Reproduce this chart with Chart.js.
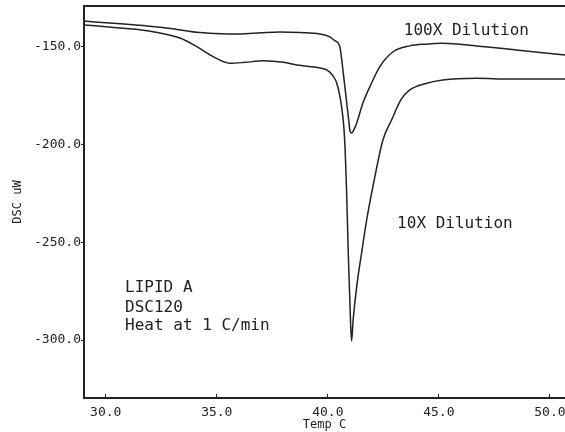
<html><head>
<title>Lipid A DSC</title>
<style>
  body {
    margin: 0;
    background: #fff;
  }
</style>
<script src="https://cdn.jsdelivr.net/npm/chart.js"></script>
</head>
<body>
<canvas id="dscChart" width="565" height="432"></canvas>
<script>
  // 100X dilution scan: temperature (C) and heat flow (uW)
  const temp100 = [29.02, 30.5, 31.86, 33.0, 34.24, 35.2, 36.04, 37.0, 37.84, 38.74, 39.64, 40.09, 40.3, 40.54,
    40.68, 40.85, 40.94, 40.99, 41.07, 41.18, 41.30, 41.58, 41.97, 42.34, 42.94, 43.69, 44.4, 45.18, 46.70,
    48.20, 49.68, 50.68];
  const dsc100 = [-136.9, -138.2, -139.4, -140.8, -142.8, -143.4, -143.5, -142.9, -142.5, -142.8, -143.5, -145.0, -146.8, -150.0,
    -161.9, -178.8, -187.5, -192.6, -194.2, -192.3, -189.0, -178.8, -168.6, -160.2, -152.6, -149.6, -148.7, -148.3, -149.6,
    -151.3, -153.1, -154.2];

  // 10X dilution scan
  const temp10 = [29.02, 30.5, 31.86, 33.34, 34.1, 34.83, 35.59, 36.3, 37.08, 38.0, 38.61, 39.64, 39.95, 40.2,
    40.40, 40.62, 40.72, 40.78, 40.84, 40.92, 41.02, 41.07, 41.14, 41.30, 41.52, 41.75, 42.03, 42.48, 42.87, 43.3,
    43.69, 44.45, 45.18, 46.70, 48.20, 50.68];
  const dsc10 = [-138.9, -140.3, -141.8, -145.6, -150.0, -155.1, -158.5, -158.0, -157.2, -158.0, -159.4, -160.9, -161.9, -164.5,
    -168.6, -180.7, -191.0, -203.0, -222.0, -255.5, -289.7, -300.5, -289.7, -272.7, -255.5, -238.6, -221.6, -197.7, -187.5, -177.0,
    -172.1, -168.7, -167.0, -166.2, -166.5, -166.5];

  const tempTicks = [30, 35, 40, 45, 50];
  const dscTicks = [-300, -250, -200, -150];

  // text written inside the plot, placed in data units
  const notes = [
    { text: '100X Dilution', temp: 43.42, dsc: -142.0 },
    { text: '10X Dilution', temp: 43.12, dsc: -240.6 },
    { text: 'LIPID A', temp: 30.87, dsc: -273.1 },
    { text: 'DSC120', temp: 30.87, dsc: -283.3 },
    { text: 'Heat at 1 C/min', temp: 30.87, dsc: -292.8 }
  ];

  const ink = '#222';
  const mono = "'DejaVu Sans Mono', monospace";
  Chart.defaults.font.family = mono;
  Chart.defaults.color = ink;

  const toPoints = (xs, ys) => xs.map((x, i) => ({ x: x, y: ys[i] }));

  const notesPlugin = {
    id: 'notes',
    afterDraw(chart) {
      const ctx = chart.ctx;
      const { x, y } = chart.scales;
      ctx.save();
      ctx.fillStyle = ink;
      ctx.font = '16px ' + mono;
      ctx.textAlign = 'left';
      ctx.textBaseline = 'middle';
      notes.forEach(n => ctx.fillText(n.text, x.getPixelForValue(n.temp), y.getPixelForValue(n.dsc)));
      ctx.restore();
    }
  };

  const lineStyle = {
    borderColor: ink,
    borderWidth: 1.5,
    pointRadius: 0,
    cubicInterpolationMode: 'monotone',
    fill: false
  };

  new Chart(document.getElementById('dscChart'), {
    type: 'line',
    data: {
      datasets: [
        Object.assign({ label: '100X Dilution', data: toPoints(temp100, dsc100) }, lineStyle),
        Object.assign({ label: '10X Dilution', data: toPoints(temp10, dsc10) }, lineStyle)
      ]
    },
    options: {
      responsive: false,
      animation: false,
      layout: { padding: { top: 6, left: 0, right: 0, bottom: 0 } },
      plugins: {
        legend: { display: false },
        tooltip: { enabled: false }
      },
      scales: {
        x: {
          type: 'linear',
          position: 'bottom',
          min: 29.02,
          max: 50.68,
          afterBuildTicks: s => { s.ticks = tempTicks.map(v => ({ value: v })); },
          afterFit: s => { s.height = 34; s.paddingLeft = 0; s.paddingRight = 0; },
          ticks: {
            font: { size: 13 },
            padding: 11,
            maxRotation: 0,
            autoSkip: false,
            callback: v => v.toFixed(1)
          },
          grid: { drawOnChartArea: false, drawTicks: true, tickLength: -4, color: ink },
          border: { color: ink, width: 2 },
          title: { display: true, text: 'Temp C', font: { size: 12 }, padding: { top: 0, bottom: 0 } }
        },
        top: {
          type: 'linear',
          position: 'top',
          min: 29.02,
          max: 50.68,
          afterFit: s => { s.height = 0; s.paddingLeft = 0; s.paddingRight = 0; },
          ticks: { display: false },
          grid: { display: false },
          border: { color: ink, width: 2 }
        },
        y: {
          type: 'linear',
          min: -329.65,
          max: -129.2,
          afterBuildTicks: s => { s.ticks = dscTicks.map(v => ({ value: v })); },
          afterFit: s => { s.width = 84; s.paddingTop = 0; s.paddingBottom = 0; },
          ticks: {
            font: { size: 13 },
            padding: 0,
            callback: v => v.toFixed(1)
          },
          grid: { drawOnChartArea: false, drawTicks: true, tickLength: 3, color: ink },
          border: { color: ink, width: 2 },
          title: { display: true, text: 'DSC uW', font: { size: 12 }, padding: { top: 11, bottom: 0 } }
        }
      }
    },
    plugins: [notesPlugin]
  });
</script>
</body></html>
